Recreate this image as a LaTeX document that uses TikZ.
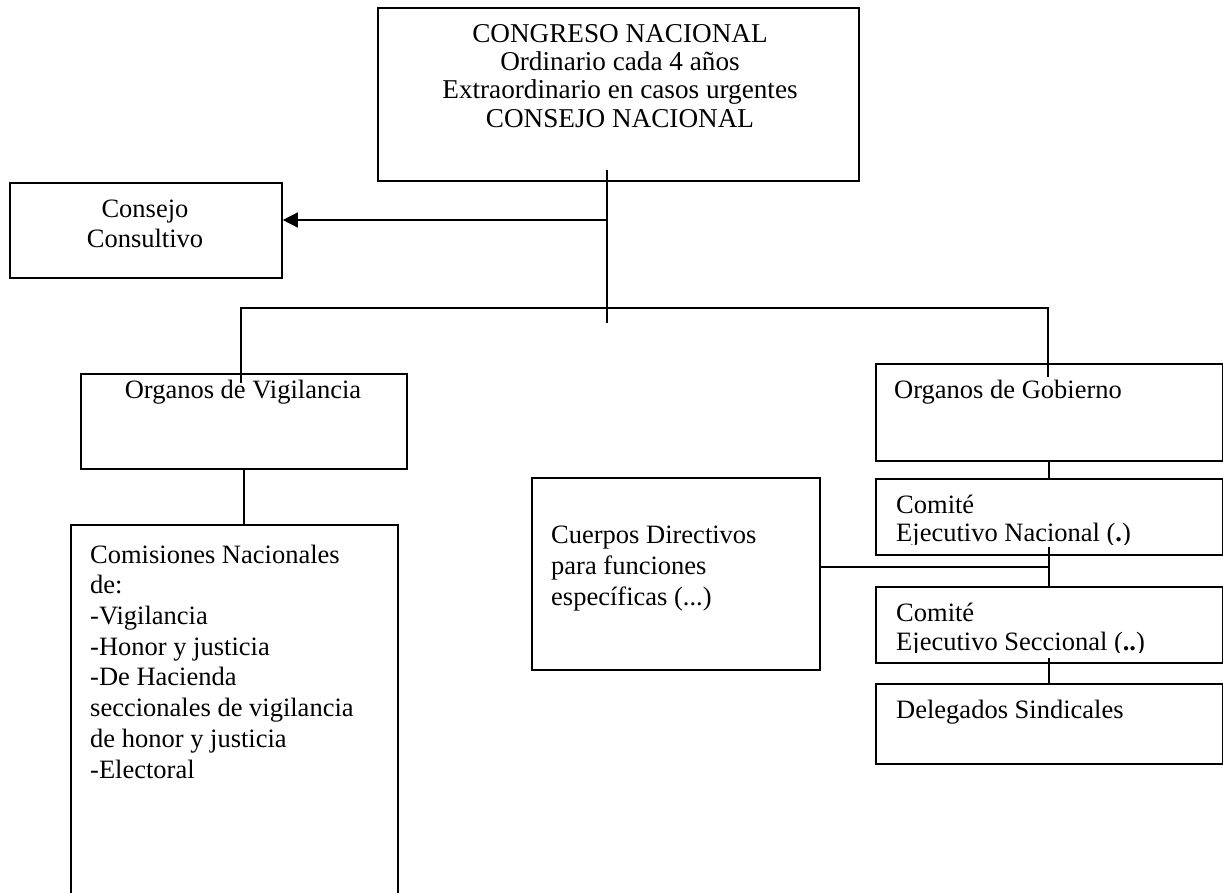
\documentclass[tikz,border=0pt]{standalone}
\usepackage{fontspec}
\setmainfont{Liberation Serif}
\usetikzlibrary{arrows.meta}
\tikzset{
  box/.style={draw=black, line width=1.8pt, rectangle, inner sep=0pt, anchor=north west},
  link/.style={draw=black, line width=1.4pt},
  txt/.style={inner sep=0pt, font=\fontsize{26.5}{28}\selectfont},
}
\begin{document}
\begin{tikzpicture}[x=1pt,y=-1pt]
\useasboundingbox (0,0) rectangle (1223,892);
\clip (0,0) rectangle (1223,892);
% boxes
\node[box, minimum width=481pt, minimum height=173pt] (cong) at (377,7) {};
\node[box, minimum width=272pt, minimum height=95pt] (cons) at (9,182) {};
\node[box, minimum width=326pt, minimum height=95pt] (ov) at (80,373) {};
\node[box, minimum width=327pt, minimum height=400pt] (cm) at (70,524) {};
\node[box, minimum width=347pt, minimum height=97pt] (og) at (875,363) {};
\node[box, minimum width=347pt, minimum height=76pt] (ca) at (875,478) {};
\node[box, minimum width=347pt, minimum height=76pt] (cb) at (875,586) {};
\node[box, minimum width=347pt, minimum height=80pt] (dl) at (875,683) {};
\node[box, minimum width=288pt, minimum height=192pt] (cd) at (531,477) {};
% texts (base anchor = baseline of the last line)
\node[txt, anchor=base, align=center, font=\fontsize{27.2}{28.3}\selectfont] (congT) at (620,127) {CONGRESO NACIONAL\\Ordinario cada 4 años\\Extraordinario en casos urgentes\\CONSEJO NACIONAL};
\node[txt, anchor=base, align=center, font=\fontsize{26.5}{30}\selectfont] (consT) at (145,247) {Consejo\\Consultivo};
\node[txt, anchor=base] (ovT) at (243,398) {Organos de Vigilancia};
\node[txt, anchor=base west, align=left, font=\fontsize{26.5}{30.7}\selectfont] (cmT) at (90,778) {Comisiones Nacionales\\de:\\-Vigilancia\\-Honor y justicia\\-De Hacienda\\seccionales de vigilancia\\de honor y justicia\\-Electoral};
\node[txt, anchor=base west] (ogT) at (894,398) {Organos de Gobierno};
\begin{scope}
\clip (875,478) rectangle (1222,544);
\node[txt, anchor=base west, align=left, font=\fontsize{26.5}{28.5}\selectfont] (caT) at (896,541.5) {Comité\\Ejecutivo Nacional (\textbf{.})};
\end{scope}
\begin{scope}
\clip (875,586) rectangle (1222,652);
\node[txt, anchor=base west, align=left, font=\fontsize{26.5}{28.5}\selectfont] (cbT) at (896,650) {Comité\\Ejecutivo Seccional (\textbf{..})};
\end{scope}
\node[txt, anchor=base west] (dlT) at (896,718) {Delegados Sindicales};
\node[txt, anchor=base west, align=left, font=\fontsize{26.5}{31}\selectfont] (cdT) at (551,605) {Cuerpos Directivos\\para funciones\\específicas (...)};
% connectors
\coordinate (trTop) at (607,170);
\coordinate (trBot) at (607,323);
\coordinate (trArr) at (607,220);
\coordinate (barL) at (241,308);
\coordinate (barR) at (1048,308);
\coordinate (ovIn) at (241,383);
\coordinate (ogIn) at (1048,377);
\coordinate (spA) at (1049,547);
\coordinate (spB) at (1049,658);
\coordinate (spM) at (1049,567);
\draw[link] (trTop) -- (trBot);
\draw[link, -{Triangle[length=15pt,width=15pt]}] (trArr) -- (trArr -| cons.east);
\draw[link] (ovIn) -- (barL) -- (barR) -- (ogIn);
\draw[link] (ov.south) -- (ov.south |- cm.north);
\draw[link] (og.south -| spA) -- (spA |- ca.north);
\draw[link] (spA) -- (spA |- cb.north);
\draw[link] (spB) -- (spB |- dl.north);
\draw[link] (cd.east |- spM) -- (spM);
\end{tikzpicture}
\end{document}
